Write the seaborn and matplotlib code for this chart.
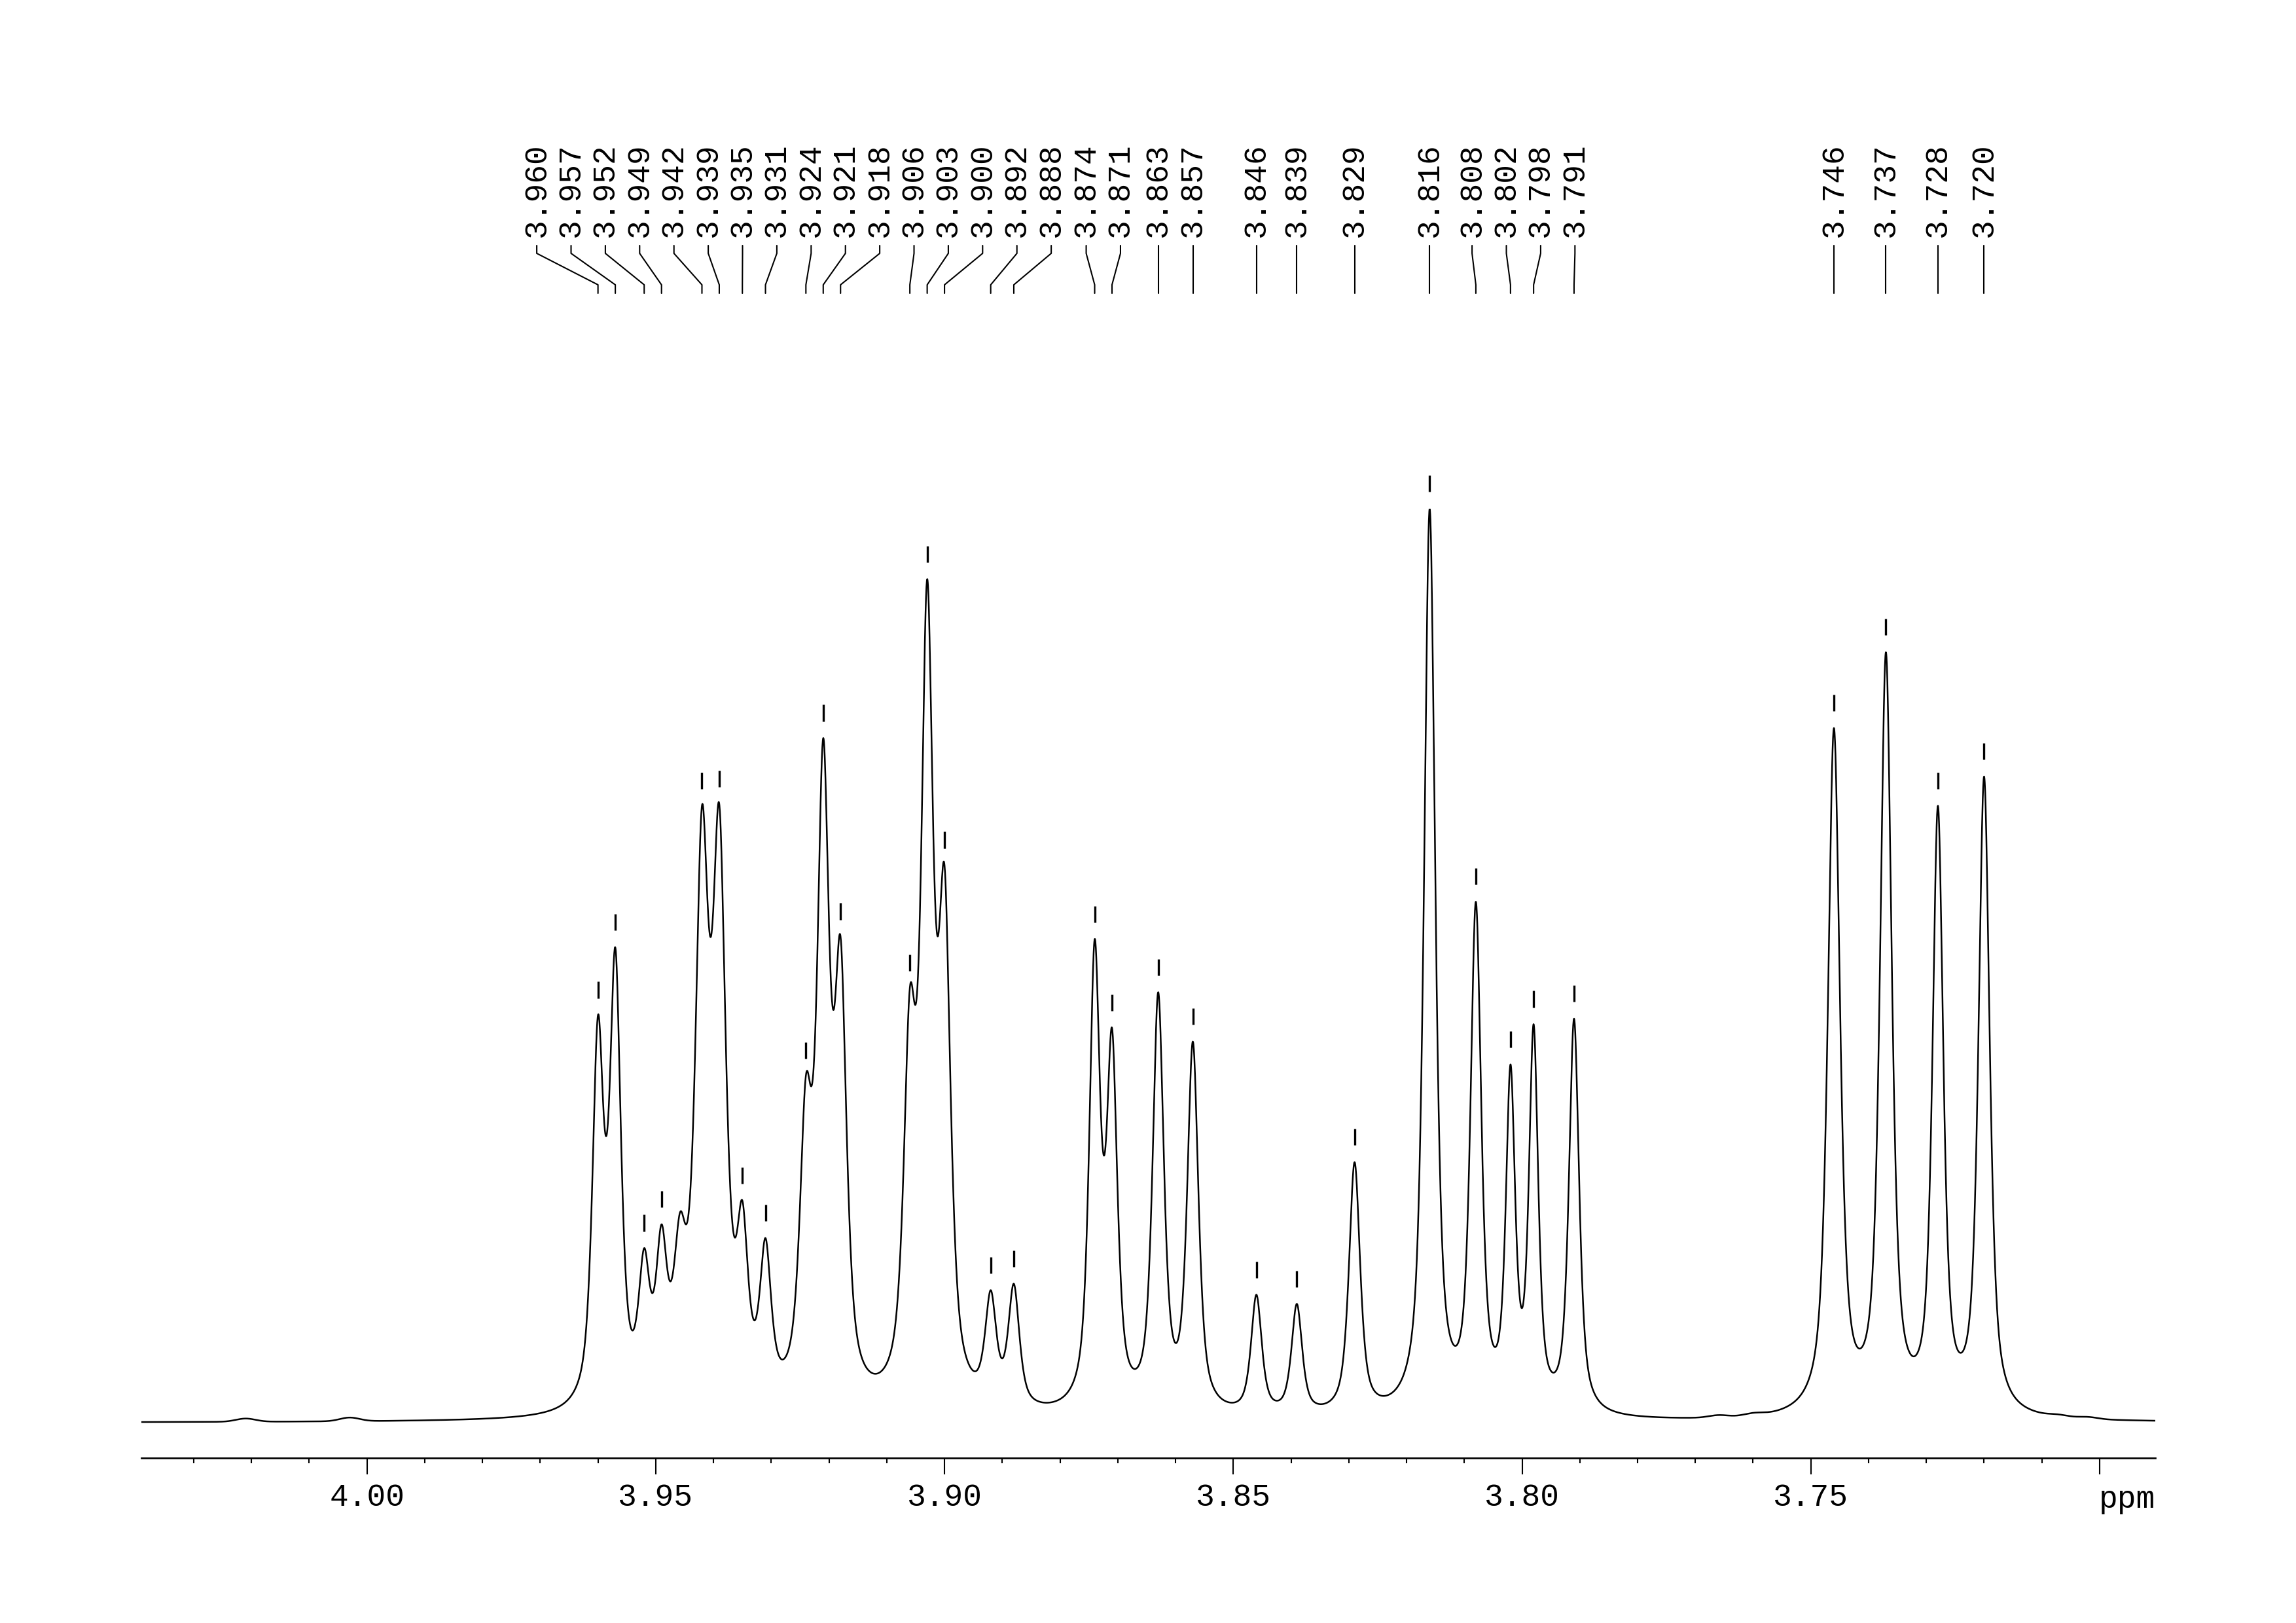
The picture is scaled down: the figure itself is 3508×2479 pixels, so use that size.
import numpy as np
import pandas as pd
import matplotlib
matplotlib.use('Agg')
import matplotlib.pyplot as plt
import matplotlib.transforms as mtransforms
from matplotlib.lines import Line2D
from matplotlib.ticker import MultipleLocator
import seaborn as sns

######## PEAK LIST #######################################
# peak positions in ppm and the curve height at each peak (tallest line = 100)
peak_ppm = [3.960, 3.957, 3.952, 3.949, 3.942, 3.939, 3.935, 3.931,
            3.924, 3.921, 3.918, 3.906, 3.903, 3.900, 3.892, 3.888,
            3.874, 3.871, 3.863, 3.857, 3.846, 3.839, 3.829, 3.816,
            3.808, 3.802, 3.798, 3.791, 3.746, 3.737, 3.728, 3.720]
peak_height = [44.6, 52.0, 19.1, 21.7, 67.5, 67.7, 24.3, 20.2,
               38.0, 74.9, 53.2, 47.6, 92.3, 61.0, 14.5, 15.2,
               52.9, 43.2, 47.1, 41.7, 14.0, 13.0, 28.5, 100.0,
               57.0, 39.2, 43.6, 44.2, 76.0, 84.3, 67.5, 70.7]
# line widths (ppm, full width at half height) estimated from the valleys
peak_fwhm = [0.0023, 0.0023, 0.0023, 0.0023, 0.0027, 0.0027, 0.0023, 0.0023,
             0.0025, 0.0025, 0.0025, 0.0025, 0.0025, 0.0025, 0.0023, 0.0023,
             0.0022, 0.0022, 0.0023, 0.0023, 0.0022, 0.0022, 0.0023, 0.0023,
             0.0022, 0.0019, 0.0019, 0.0021, 0.0025, 0.0024, 0.0022, 0.0023]

# unlabelled shoulder inside the 3.94 multiplet
shoulder_ppm = [3.9458]
shoulder_height = [23.0]
shoulder_fwhm = [0.0026]

# small baseline wiggles (amplitudes)
bump_ppm = [4.021, 4.003, 3.766, 3.760, 3.707, 3.702]
bump_amp = [0.35, 0.4, 0.25, 0.25, 0.2, 0.2]

major_ticks = [4.00, 3.95, 3.90, 3.85, 3.80, 3.75, 3.70]
major_labels = ['4.00', '3.95', '3.90', '3.85', '3.80', '3.75', '']
###########################################

bump_fwhm = 0.004


def pvoigt(x, x0, fwhm, eta=0.7):
    z = (np.asarray(x) - x0) / (fwhm / 2)
    return eta / (1 + z ** 2) + (1 - eta) * np.exp(-np.log(2) * z ** 2)


# amplitudes so that the summed curve passes through the read heights
centers = np.array(peak_ppm + shoulder_ppm)
widths = np.array(peak_fwhm + shoulder_fwhm)
targets = np.array(peak_height + shoulder_height)
M = np.array([[pvoigt(ci, cj, wj) for cj, wj in zip(centers, widths)] for ci in centers])
amps = np.linalg.solve(M, targets)

xmin, xmax = 4.03906, 3.69036
ppm = np.linspace(xmin, xmax, 9000)
intensity = sum(a * pvoigt(ppm, c, w) for a, c, w in zip(amps, centers, widths))
intensity = intensity + sum(a * pvoigt(ppm, c, bump_fwhm, eta=0.0) for a, c in zip(bump_amp, bump_ppm))
df = pd.DataFrame({'ppm': ppm, 'intensity': intensity})


# spread crowded labels evenly, like the spectrometer software does
def spread_labels(pos, gap):
    u = [-p for p in pos]
    groups = [[i] for i in range(len(u))]

    def place(g):
        c = np.mean([u[i] for i in g])
        n = len(g)
        return [c + (k - (n - 1) / 2) * gap for k in range(n)]

    changed = True
    while changed:
        changed = False
        for k in range(len(groups) - 1):
            a = place(groups[k])
            b = place(groups[k + 1])
            if b[0] - a[-1] < gap - 1e-12:
                groups[k] = groups[k] + groups[k + 1]
                del groups[k + 1]
                changed = True
                break
    out = []
    for g in groups:
        out += place(g)
    return [-v for v in out]


sns.set_theme(style="white")
plt.rcParams['font.family'] = ['Liberation Mono', 'DejaVu Sans Mono']

W, H = 3508, 2479
fig = plt.figure(figsize=(W / 300, H / 300), dpi=300)
fig.patch.set_facecolor('white')

ax_left, ax_right = 216, 3293
ax_bottom, ax_top = 2227, 777
ax = fig.add_axes([ax_left / W, 1 - ax_bottom / H, (ax_right - ax_left) / W, (ax_bottom - ax_top) / H])
ax.set_facecolor('white')

sns.lineplot(data=df, x='ppm', y='intensity', ax=ax, color='black', linewidth=0.6,
             estimator=None, sort=False)

# peak pick marks
heights = np.array(peak_height)
ax.vlines(peak_ppm, heights + 1.85, heights + 3.65, color='black', linewidth=0.8, clip_on=False)

ax.set_xlim(xmin, xmax)
ax.set_ylim(-(ax_bottom - 2173) / 1396 * 100, 100)
for s in ['top', 'left', 'right']:
    ax.spines[s].set_visible(False)
ax.spines['bottom'].set_color('black')
ax.spines['bottom'].set_linewidth(0.65)
ax.set_yticks([])
ax.set_xlabel('')
ax.set_ylabel('')
ax.set_xticks(major_ticks)
ax.set_xticklabels(major_labels)
ax.xaxis.set_minor_locator(MultipleLocator(0.01))
ax.tick_params(axis='x', which='major', direction='out', length=6.0, width=0.5,
               color='black', labelsize=11.5, labelcolor='black', pad=3.0, bottom=True)
ax.tick_params(axis='x', which='minor', direction='out', length=1.9, width=0.5,
               color='black', bottom=True)
fig.text(ax_right / W, 1 - 2303 / H, 'ppm', ha='right', va='baseline', fontsize=11.5, color='black')

# peak labels with leader lines
trans = mtransforms.blended_transform_factory(ax.transData, fig.transFigure)
label_x = spread_labels(peak_ppm, 52.4 / 8824)
y_lead = [1 - 375 / H, 1 - 387 / H, 1 - 435 / H, 1 - 448 / H]
for p, lx in zip(peak_ppm, label_x):
    fig.add_artist(Line2D([lx, lx, p, p], y_lead, transform=trans, color='black', linewidth=0.5))
    ax.text(lx, 1 - 362 / H, '{:.3f}'.format(p), transform=trans, rotation=90,
            rotation_mode='anchor', ha='left', va='center', fontsize=11.5, color='black',
            clip_on=False)

fig.savefig('out.png', dpi=300, facecolor='white')
